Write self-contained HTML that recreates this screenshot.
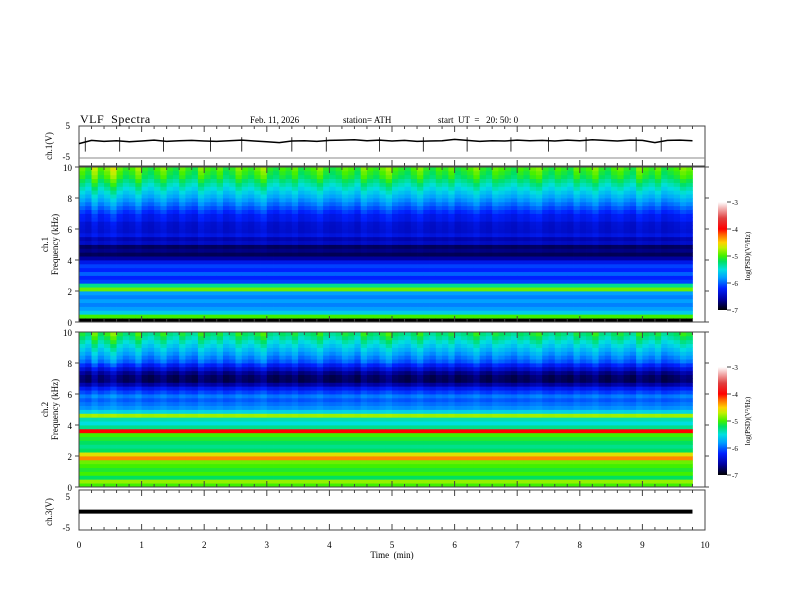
<!DOCTYPE html>
<html><head><meta charset="utf-8">
<style>
body{margin:0;background:#fff;}
svg{display:block;font-family:"Liberation Serif",serif;}
text{white-space:pre;}
</style></head>
<body>
<svg id="chart" width="792" height="612" viewBox="0 0 792 612" xmlns="http://www.w3.org/2000/svg">
<defs>
<linearGradient id="cb" x1="0" y1="1" x2="0" y2="0">
<stop offset="0" stop-color="#000000"/>
<stop offset="0.1" stop-color="#0000a0"/>
<stop offset="0.2" stop-color="#0020ff"/>
<stop offset="0.3" stop-color="#00a0ff"/>
<stop offset="0.375" stop-color="#00e0e0"/>
<stop offset="0.45" stop-color="#00e060"/>
<stop offset="0.5" stop-color="#40f000"/>
<stop offset="0.575" stop-color="#c0f000"/>
<stop offset="0.625" stop-color="#ffd000"/>
<stop offset="0.7" stop-color="#ff6000"/>
<stop offset="0.75" stop-color="#ff0000"/>
<stop offset="0.85" stop-color="#e04040"/>
<stop offset="1" stop-color="#ffffff"/>
</linearGradient>
</defs>
<g font-size="10">
<text x="80" y="123" font-size="12" letter-spacing="0.5">VLF  Spectra</text>
<text x="250" y="123" font-size="9">Feb. 11, 2026</text>
<text x="343" y="123" font-size="9">station= ATH</text>
<text x="438" y="123" font-size="9">start  UT  =   20: 50: 0</text>
<text x="392" y="558" font-size="9" text-anchor="middle">Time  (min)</text>
</g>
<g id="spec1"></g>
<g id="spec2"></g>
<g id="axes"></g>
</svg>
<script>
const NS='http://www.w3.org/2000/svg';
// ---- data ----
const timeTicks=[0,1,2,3,4,5,6,7,8,9,10];
const freqTicks=[0,2,4,6,8,10];
const cbTicks=[-3,-4,-5,-6,-7];
// log PSD per 0.25 kHz frequency bin (0 -> 10 kHz)
const ch1Profile=[-7,-5.0,-5.6,-5.8,-5.9,-5.8,-5.9,-5.8,-4.9,-5.3,-6.1,-6.2,-6.0,-6.2,-6.1,-6.3,-6.6,-6.8,-6.7,-6.8,-6.5,-6.6,-6.4,-6.5,-6.5,-6.5,-6.4,-6.4,-6.3,-6.2,-6.1,-6.0,-5.9,-5.8,-5.7,-5.6,-5.5,-5.4,-5.35,-5.3];
const ch2Profile=[-5.0,-4.8,-5.2,-5.0,-5.1,-5.0,-4.9,-4.3,-4.6,-5.2,-5.3,-5.2,-5.1,-5.0,-4.0,-5.3,-5.5,-5.4,-4.8,-5.6,-5.9,-6.0,-6.1,-6.0,-6.2,-6.4,-6.7,-6.9,-6.9,-6.8,-6.6,-6.4,-6.2,-6.1,-6.0,-5.9,-5.8,-5.7,-5.6,-5.5];
// sferic burst intensity per 0.1 min column (0 -> 9.8 min)
const burst=[0.5,0.3,0.8,0.4,0.6,0.9,0.5,0.3,0.4,0.7,0.3,0.2,0.4,0.6,0.3,0.2,0.5,0.3,0.2,0.6,0.4,0.3,0.5,0.2,0.3,0.6,0.4,0.3,0.5,0.7,0.3,0.2,0.4,0.3,0.5,0.2,0.3,0.4,0.6,0.3,0.2,0.3,0.5,0.4,0.2,0.6,0.4,0.3,0.5,0.7,0.4,0.3,0.2,0.4,0.6,0.3,0.2,0.4,0.3,0.5,0.2,0.3,0.4,0.6,0.3,0.2,0.5,0.4,0.3,0.2,0.4,0.3,0.5,0.6,0.3,0.2,0.4,0.3,0.2,0.5,0.3,0.4,0.6,0.3,0.2,0.4,0.5,0.3,0.2,0.6,0.4,0.3,0.5,0.2,0.3,0.4,0.6,0.5];
// ch1 voltage trace, one value per 0.2 min
const ch1Volts=[-0.5,0.5,0.2,0.4,0.1,0.3,0.6,0.2,0.4,0.5,0.3,0.2,0.4,0.6,0.3,0.1,-0.2,0.3,0.4,0.2,0.5,0.6,0.7,0.4,0.6,0.3,0.5,0.2,0.3,0.4,0.8,0.5,0.2,0.4,0.3,0.6,0.4,0.5,0.3,0.6,0.4,0.7,0.5,0.3,0.6,0.5,-0.2,0.5,0.6,0.4];
const ch1Spikes=[0.1,0.65,1.35,2.1,2.6,3.4,3.95,4.8,5.5,6.2,6.9,7.5,8.1,8.9,9.3];
const ch3Volt=0.3;
// ---- scales ----
const X0=79,X1=705;
const xs=t=>X0+t*(X1-X0)/10;
const f1=f=>322-f*15.5, f2=f=>487-f*15.5;
const v1=v=>142-v*3.2, v3=v=>512.5-v*3.1;
const stops=[[-7,[0,0,0]],[-6.6,[0,0,160]],[-6.2,[0,32,255]],[-5.8,[0,160,255]],[-5.5,[0,224,224]],[-5.2,[0,224,96]],[-5,[64,240,0]],[-4.7,[192,240,0]],[-4.5,[255,208,0]],[-4.2,[255,96,0]],[-4,[255,0,0]],[-3.6,[224,64,64]],[-3,[255,255,255]]];
function col(v){v=Math.max(-7,Math.min(-3,v));for(let i=1;i<stops.length;i++){if(v<=stops[i][0]){const a=stops[i-1],b=stops[i],k=(v-a[0])/(b[0]-a[0]);const c=a[1].map((x,j)=>Math.round(x+(b[1][j]-x)*k));return `rgb(${c})`;}}return '#fff';}
function el(t,a,p){const e=document.createElementNS(NS,t);for(const k in a)e.setAttribute(k,a[k]);(p||document.getElementById('axes')).appendChild(e);return e;}

function spectro(gid,prof,fy){
  const g=document.getElementById(gid);
  const df=10/prof.length, dt=0.1;
  burst.forEach((b,ti)=>{
    prof.forEach((p,fi)=>{
      const f=fi*df;
      const w=Math.max(0,(f-4)/6);
      const v=p+b*0.8*w;
      const r=el('rect',{x:xs(ti*dt).toFixed(2),y:fy(f+df).toFixed(2),width:(xs(dt)-X0+0.4).toFixed(2),height:(fy(0)-fy(df)+0.4).toFixed(2),fill:col(v)},g);
      
      
    });
  });
}
spectro('spec1',ch1Profile,f1);
spectro('spec2',ch2Profile,f2);

function frame(y0,y1,name){
  const r=el('rect',{x:X0,y:y0,width:X1-X0,height:y1-y0,fill:'none',stroke:'#444','stroke-width':1});
  
  
  for(let t=0;t<=10.001;t+=0.2){
    const maj=Math.abs(t-Math.round(t))<0.01;
    const L=maj?6:3;
    el('line',{x1:xs(t),x2:xs(t),y1:y0,y2:y0+L,stroke:'#444'});
    el('line',{x1:xs(t),x2:xs(t),y1:y1,y2:y1-L,stroke:'#444'});
  }
}
// ch1 panel
frame(126,166,'ch1-voltage-panel');
el('line',{x1:X0,x2:X1,y1:158,y2:158,stroke:'#888'});
let d='';ch1Volts.forEach((v,i)=>{d+=(i?'L':'M')+xs(i*0.2).toFixed(1)+','+v1(v).toFixed(1);});
const tr=el('path',{d:d,fill:'none',stroke:'#000','stroke-width':1.5});


ch1Spikes.forEach(t=>{const s=el('line',{x1:xs(t),x2:xs(t),y1:v1(1.5),y2:v1(-3),stroke:'#000','stroke-width':0.8});

});
[[5,'5'],[-5,'-5']].forEach(([v,s])=>{const t=el('text',{x:70,y:(v>0?129:160),'font-size':9,'text-anchor':'end'});t.textContent=s;});
let yl=el('text',{transform:'translate(52,146) rotate(-90)','font-size':9,'text-anchor':'middle'});yl.textContent='ch.1(V)';


// spectrogram frames
[[f1,'ch.1','ch1'],[f2,'ch.2','ch2']].forEach(([fy,lab,id])=>{
  frame(fy(10),fy(0),id+'-spectrogram-frame');
  freqTicks.forEach(f=>{
    el('line',{x1:X0-4,x2:X0,y1:fy(f),y2:fy(f),stroke:'#444'});
    el('line',{x1:X1,x2:X1+4,y1:fy(f),y2:fy(f),stroke:'#444'});
    const t=el('text',{x:72,y:fy(f)+4,'font-size':9,'text-anchor':'end'});t.textContent=f;
  });
  const a=el('text',{transform:`translate(48,${fy(5)}) rotate(-90)`,'font-size':9,'text-anchor':'middle'});a.textContent=lab;
  const b=el('text',{transform:`translate(58,${fy(5)}) rotate(-90)`,'font-size':9,'text-anchor':'middle'});b.textContent='Frequency (kHz)';
  
  // colorbar
  const top=fy(10)+35,bot=fy(0)-12;
  const cb=el('rect',{x:718,y:top,width:9,height:bot-top,fill:'url(#cb)'});
  
  cbTicks.forEach(v=>{const y=top+(-3-v)/4*(bot-top);
    el('line',{x1:727,x2:731,y1:y,y2:y,stroke:'#444'});
    const t=el('text',{x:732,y:y+3,'font-size':7});t.textContent=v;});
  const ct=el('text',{transform:`translate(750,${(top+bot)/2}) rotate(-90)`,'font-size':7,'text-anchor':'middle'});ct.textContent='log(PSD)(V\u00B2/Hz)';
  
});

// ch3 panel
frame(490,530,'ch3-voltage-panel');
const c3=el('line',{x1:X0,x2:xs(9.8),y1:v3(ch3Volt),y2:v3(ch3Volt),stroke:'#000','stroke-width':4});

[[5,'5',500],[-5,'-5',531]].forEach(([v,s,y])=>{const t=el('text',{x:70,y:y,'font-size':9,'text-anchor':'end'});t.textContent=s;});
let y3=el('text',{transform:'translate(52,512) rotate(-90)','font-size':9,'text-anchor':'middle'});y3.textContent='ch.3(V)';

timeTicks.forEach(t=>{const e=el('text',{x:xs(t),y:548,'font-size':9,'text-anchor':'middle'});e.textContent=t;
});
</script>
</body></html>
